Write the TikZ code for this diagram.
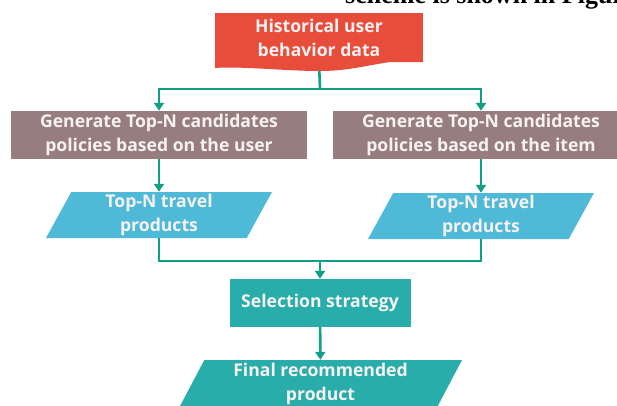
\documentclass[tikz,border=0pt]{standalone}
\usepackage{fontspec}
\setmainfont{Open Sans}
\newfontfamily\paperfont{Liberation Serif}
\usetikzlibrary{arrows.meta,shapes.geometric}
\definecolor{histred}{HTML}{E84C3A}
\definecolor{genbrown}{HTML}{977D7E}
\definecolor{topblue}{HTML}{4FBAD7}
\definecolor{selteal}{HTML}{29ADAA}
\definecolor{linkgreen}{HTML}{12A084}
\definecolor{boxtext}{HTML}{F7F2F2}
\begin{document}
\begin{tikzpicture}[x=1pt,y=-1pt,
  every node/.style={font=\bfseries\fontsize{17.6}{24}\selectfont, text=boxtext, align=center, inner sep=0pt},
  genbox/.style={fill=genbrown, minimum width=296pt, minimum height=48pt},
  selbox/.style={fill=selteal, minimum width=181pt, minimum height=48pt},
  prodbox/.style={trapezium, trapezium left angle=58.7, trapezium right angle=121.3,
    trapezium stretches body, minimum width=226pt, minimum height=46pt},
  link/.style={draw=linkgreen, line width=2.6pt},
  arrow/.style={link, -{Triangle[width=10pt,length=8pt]}}]
  \useasboundingbox (0,0) rectangle (617,405);
  \clip (0,0) rectangle (617,405);
  % clipped line of the paper above the figure
  \node[anchor=base west, text=black, font=\paperfont\bfseries\fontsize{26}{30}\selectfont] (paper) at (345,3) {scheme is shown in Figure};
  % source data
  \node[fill=histred, minimum width=208pt, minimum height=49pt] (hist) at (319,37.5) {Historical user\\behavior data};
  \draw[link, shorten <=8pt] (hist.south) -- (320,89) coordinate (split);
  \fill[histred] (423,60) .. controls (383,59) and (360,71) .. (320,71)
    .. controls (285,71) and (240,66) .. (215,68) -- (hist.south west) -- (hist.south east) -- cycle;
  % two candidate policies
  \node[genbox] (genU) at (159,135) {Generate Top-N candidates\\policies based on the user};
  \node[genbox] (genI) at (481,135) {Generate Top-N candidates\\policies based on the item};
  \node[prodbox, fill=topblue] (topU) at (159,215) {Top-N travel\\products};
  \node[prodbox, fill=topblue] (topI) at (481,216) {Top-N travel\\products};
  % selection
  \node[selbox] (sel) at (320,303) {Selection strategy};
  \node[prodbox, fill=selteal, minimum width=283pt, minimum height=48pt] (final) at (320.5,384) {Final recommended\\product};
  \coordinate (merge) at (320,261);
  \draw[arrow] (split) -| (genU.north);
  \draw[arrow] (split) -| (genI.north);
  \draw[arrow] (genU) -- (topU);
  \draw[arrow] (genI) -- (topI);
  \draw[link] (topU.south) |- (merge);
  \draw[link] (topI.south) |- (merge);
  \draw[arrow] (merge) -- (sel);
  \draw[arrow] (sel) -- (final);
\end{tikzpicture}
\end{document}
